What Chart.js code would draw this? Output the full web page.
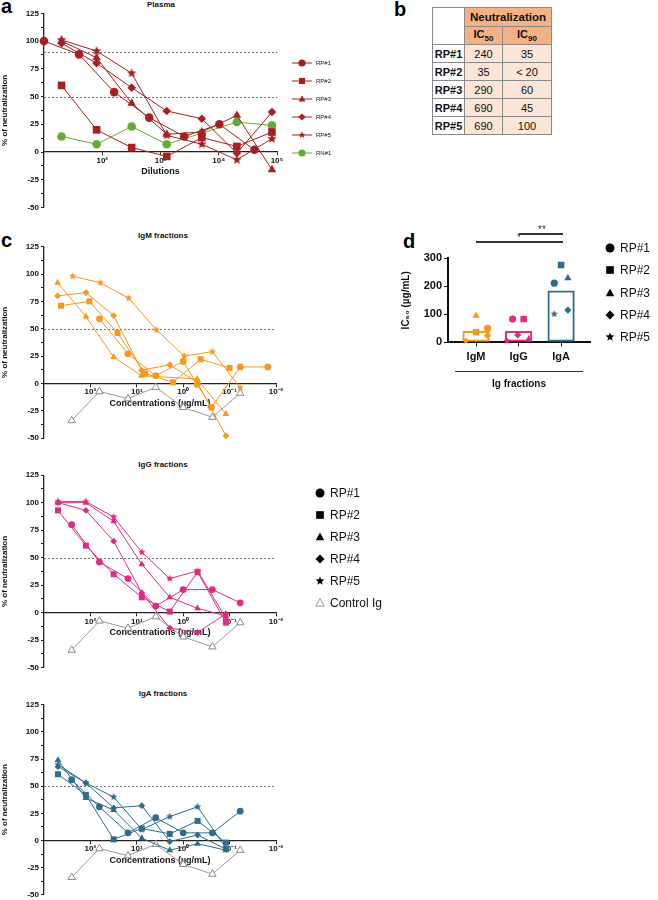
<!DOCTYPE html>
<html>
<head>
<meta charset="utf-8">
<script src="https://cdn.jsdelivr.net/npm/chart.js@4.4.1/dist/chart.umd.min.js"></script>
<style>
  body { margin: 0; background: #fff; font-family: 'Liberation Sans', Arial, sans-serif; }
  #page { position: relative; width: 658px; height: 900px; overflow: hidden; }
  canvas.chart { position: absolute; }
  .letter { position: absolute; font-weight: bold; font-size: 20px; line-height: 20px; color: #000; }
  .ptitle { position: absolute; font-weight: bold; font-size: 8px; line-height: 10px; transform: translateX(-50%); white-space: nowrap; color: #111; }
  .lg { position: absolute; display: flex; align-items: center; white-space: nowrap; color: #111; }
  .lg canvas { display: block; }
  #tbl { position: absolute; left: 432px; top: 7px; border-collapse: collapse; font-size: 11px; color: #111; }
  #tbl td { border: 1px solid #8a8a8a; text-align: center; padding: 0; height: 17px; }
  #tbl td.hd { background: #f4b183; font-weight: bold; }
  #tbl td.rh { background: #fff; font-weight: bold; }
  #tbl td.v { background: #fbe5d6; }
  #tbl sub { font-size: 8px; }
  .hline { position: absolute; background: #333; }
  .txt { position: absolute; font-weight: bold; white-space: nowrap; transform: translateX(-50%); color: #111; }
</style>
</head>
<body>
<div id="page">
  <div class="letter" style="left:1px;top:-4px">a</div>
  <div class="letter" style="left:394px;top:-1px">b</div>
  <div class="letter" style="left:1px;top:230px">c</div>
  <div class="letter" style="left:403px;top:231px">d</div>

  <div class="ptitle" style="left:161px;top:0px">Plasma</div>
  <div class="ptitle" style="left:163px;top:231px">IgM fractions</div>
  <div class="ptitle" style="left:163px;top:460px">IgG fractions</div>
  <div class="ptitle" style="left:163px;top:689px">IgA fractions</div>

  <canvas class="chart" id="chartA" width="330" height="215" style="left:0;top:0"></canvas>
  <canvas class="chart" id="chartM" width="330" height="215" style="left:0;top:232px"></canvas>
  <canvas class="chart" id="chartG" width="330" height="215" style="left:0;top:462px"></canvas>
  <canvas class="chart" id="chartIgA" width="330" height="208" style="left:0;top:692px"></canvas>
  <canvas class="chart" id="chartD" width="210" height="150" style="left:400px;top:225px"></canvas>

  <table id="tbl">
    <colgroup><col style="width:32px"><col style="width:38px"><col style="width:49px"></colgroup>
    <tbody id="tbody"></tbody>
  </table>

  <!-- significance bars and group bracket for d -->
  <div class="hline" style="left:476px;top:241px;width:87px;height:1.5px"></div>
  <div class="txt" style="left:519px;top:232px;font-size:10px;font-weight:normal;color:#333">*</div>
  <div class="hline" style="left:519px;top:233px;width:44px;height:1.5px"></div>
  <div class="txt" style="left:542px;top:224px;font-size:10px;font-weight:normal;color:#333">**</div>
  <div class="hline" style="left:455px;top:371px;width:128px;height:1px"></div>
  <div class="txt" style="left:519px;top:378px;font-size:10px">Ig fractions</div>
</div>

<script>
// ---- panel a : plasma ----
const plasmaSeries = ['RP#1', 'RP#2', 'RP#3', 'RP#4', 'RP#5', 'RN#1'];
const plasmaDilutions = [
  [10, 40, 160, 640, 2560, 10240, 40960],
  [20, 80, 320, 1280, 5120, 20480, 81920],
  [20, 80, 320, 1280, 5120, 20480, 81920],
  [20, 80, 320, 1280, 5120, 20480, 81920],
  [20, 80, 320, 1280, 5120, 20480, 81920],
  [20, 80, 320, 1280, 5120, 20480, 81920]
];
const plasmaNeut = [
  [100, 88, 54, 31, 14, 25, 2],
  [60, 20, 4, -4, 13, 5, 18],
  [100, 85, 44, 16, 18, 33, -16],
  [98, 80, 58, 37, 30, -1, 36],
  [101, 91, 71, 15, 7, -7, 12],
  [14, 7, 23, 7, 17, 27, 24]
];
const plasmaTicks = [1e2, 1e3, 1e4, 1e5];
const plasmaThresholds = [90, 50];

// ---- panel b : titers ----
const tableRows = ['RP#1', 'RP#2', 'RP#3', 'RP#4', 'RP#5'];
const ic50Titers = ['240', '35', '290', '690', '690'];
const ic90Titers = ['35', '< 20', '60', '45', '100'];

// ---- panel c : Ig fractions (µg/mL) ----
const fracSeries = ['RP#1', 'RP#2', 'RP#3', 'RP#4', 'RP#5'];
const igmConc = [
  [64, 15.5, 3.9, 1.0, 0.5, 0.245, 0.059, 0.015],
  [430, 105, 26, 6.6, 1.66, 0.42, 0.1],
  [510, 124, 31.5, 7.9, 0.5, 0.12],
  [510, 124, 31.5, 7.9, 1.95, 0.5, 0.12],
  [241, 61, 15, 3.8, 0.95, 0.235, 0.059]
];
const igmNeut = [
  [59, 27, 7, 20, -1, -22, 15, 15],
  [71, 75, 46, 9, 1, 22, 14],
  [92, 61, 24, 7, 4, -28],
  [80, 83, 62, 12, 17, 1, -48],
  [98, 92, 78, 49, 25, 29, -4]
];
const iggConc = [
  [253, 64, 15.5, 3.9, 1.0, 0.235, 0.059],
  [500, 125, 31.5, 7.8, 1.95, 0.49, 0.12],
  [500, 125, 31.5, 7.8, 1.95, 0.49, 0.12],
  [500, 125, 31.5, 7.8, 1.95, 0.49, 0.12],
  [500, 125, 31.5, 7.8, 1.95, 0.49, 0.12]
];
const iggNeut = [
  [80, 46, 31, 6, 21, 21, 9],
  [93, 61, 35, 14, 1, 37, -9],
  [100, 100, 83, 44, 14, 4, -3],
  [100, 93, 65, 18, -14, -18, -1],
  [101, 101, 87, 55, 31, 38, -5]
];
const igaConc = [
  [253, 64, 15.5, 3.9, 1.0, 0.235, 0.059],
  [500, 125, 31.5, 7.8, 1.95, 0.49, 0.12],
  [500, 125, 31.5, 7.8, 1.95, 0.49, 0.12],
  [500, 125, 31.5, 7.8, 1.95, 0.49, 0.12],
  [500, 125, 31.5, 7.8, 1.95, 0.49, 0.12]
];
const igaNeut = [
  [56, 31, 7, 21, 7, 7, 27],
  [61, 42, 1, 11, 6, 18, -2],
  [74, 39, 28, 2, -9, -3, -9],
  [68, 53, 30, 32, -1, 5, -8],
  [70, 53, 40, 10, 22, 31, -7]
];
const controlConc = [253, 64, 15.5, 3.9, 1.0, 0.235, 0.059];
const controlNeut = [-34, -7.5, -14, -3.6, -22, -31, -9];
const concTicks = [1e2, 1e1, 1e0, 1e-1, 1e-2];
const fracThresholds = [50];

// ---- panel d : IC50 of fractions ----
const groups = ['IgM', 'IgG', 'IgA'];
const ic50Mean = [40, 40, 185];
const ic50IgM = [50, 36, 95, 24, 5];
const ic50IgG = [83, 83, 11, 26, 5];
const ic50IgA = [211, 276, 229, 115, 101];
const ic50Ticks = [0, 100, 200, 300];

// styling
const plasmaColors = ['#a5201f', '#a5201f', '#a5201f', '#a5201f', '#a5201f', '#64ad35'];
const groupColors = ['#f8961e', '#dc2d80', '#2f6b8a'];
const shapes = ['circle', 'rect', 'triangle', 'rectRot', 'star'];
const plasmaShapes = ['circle', 'rect', 'triangle', 'rectRot', 'star', 'circle'];
const dJitter = [
  [0.27, 0, 0, 0.27, -0.24],
  [-0.14, 0.12, 0.24, -0.02, -0.27],
  [-0.16, 0, 0.16, 0.16, -0.16]
];

const FONT = "'Liberation Sans', Arial, sans-serif";
Chart.defaults.font.family = FONT;
Chart.defaults.color = '#111';
Chart.defaults.animation = false;
Chart.defaults.events = [];

function drawMarker(g, shape, x, y, r, fill, stroke) {
  g.beginPath();
  if (shape === 'circle') {
    g.arc(x, y, r, 0, Math.PI * 2);
  } else if (shape === 'rect') {
    const s = r * 0.85;
    g.rect(x - s, y - s, 2 * s, 2 * s);
  } else if (shape === 'triangle') {
    g.moveTo(x, y - r);
    g.lineTo(x + r * 0.95, y + r * 0.7);
    g.lineTo(x - r * 0.95, y + r * 0.7);
    g.closePath();
  } else if (shape === 'rectRot') {
    g.moveTo(x, y - r); g.lineTo(x + r, y); g.lineTo(x, y + r); g.lineTo(x - r, y);
    g.closePath();
  } else {
    for (let i = 0; i < 10; i++) {
      const a = -Math.PI / 2 + i * Math.PI / 5;
      const rr = i % 2 ? r * 0.45 : r;
      g.lineTo(x + rr * Math.cos(a), y + rr * Math.sin(a));
    }
    g.closePath();
  }
  if (fill) { g.fillStyle = fill; g.fill(); }
  if (stroke) { g.strokeStyle = stroke; g.lineWidth = 1; g.stroke(); }
}

function starImg(color, r) {
  const c = document.createElement('canvas');
  const s = Math.ceil(r * 2 + 2);
  c.width = s; c.height = s;
  drawMarker(c.getContext('2d'), 'star', s / 2, s / 2, r, color);
  return c;
}

const sup = { '-': '⁻', '0': '⁰', '1': '¹', '2': '²', '3': '³', '4': '⁴', '5': '⁵' };
function powLabel(v) {
  const e = Math.round(Math.log10(v));
  return '10' + String(e).split('').map(c => sup[c]).join('');
}

// dashed threshold lines
const refLines = {
  id: 'refLines',
  beforeDatasetsDraw(chart, args, opts) {
    const vals = opts.values || [];
    const { ctx, chartArea, scales } = chart;
    ctx.save();
    ctx.setLineDash([2, 2]);
    ctx.strokeStyle = '#555';
    ctx.lineWidth = 0.8;
    vals.forEach(v => {
      const y = Math.round(scales.y.getPixelForValue(v)) + 0.5;
      ctx.beginPath();
      ctx.moveTo(chartArea.left, y);
      ctx.lineTo(chartArea.right, y);
      ctx.stroke();
    });
    ctx.restore();
  }
};
Chart.register(refLines);

function yNeut() {
  return {
    min: -50, max: 125,
    border: { color: '#222', width: 1.3 },
    grid: { drawOnChartArea: false, tickLength: 3, color: '#222' },
    ticks: {
      stepSize: 12.5, autoSkip: false, padding: 2,
      font: { size: 8, weight: 'bold' },
      callback: v => (v % 25 === 0 ? v : '')
    },
    title: { display: true, text: '% of neutralization', font: { size: 8, weight: 'bold' }, padding: { top: 0, bottom: 0 } },
    afterFit: s => { s.width = 44; s.paddingTop = 0; s.paddingBottom = 0; }
  };
}

function xLog(min, max, reverse, ticks, title) {
  return {
    type: 'logarithmic', min, max, reverse,
    position: { y: 0 },
    border: { color: '#222', width: 1.3 },
    grid: { drawOnChartArea: false, tickLength: 3, color: '#222' },
    ticks: {
      autoSkip: false, maxRotation: 0, padding: 1,
      font: { size: 8, weight: 'bold' },
      callback: v => powLabel(v)
    },
    afterBuildTicks: s => { s.ticks = ticks.map(v => ({ value: v })); },
    title: { display: true, text: title, font: { size: 9, weight: 'bold' }, padding: { top: 0, bottom: 0 } }
  };
}

function lineSet(xs, ys, color, shape, r, label) {
  return {
    label,
    data: xs.map((x, i) => ({ x, y: ys[i] })),
    borderColor: color,
    backgroundColor: color,
    borderWidth: 1,
    pointStyle: shape === 'star' ? starImg(color, r * 1.15) : shape,
    pointRadius: shape === 'rect' ? r * 1.25 : shape === 'triangle' ? r * 1.15 : r,
    pointBackgroundColor: color,
    pointBorderColor: color,
    pointBorderWidth: 0,
    tension: 0,
    clip: false
  };
}

// panel a
new Chart(document.getElementById('chartA'), {
  type: 'line',
  data: {
    datasets: plasmaSeries.map((name, i) =>
      lineSet(plasmaDilutions[i], plasmaNeut[i], plasmaColors[i], plasmaShapes[i], 4.3, name))
  },
  options: {
    responsive: false,
    layout: { padding: { left: 0, top: 13.3, right: 53, bottom: 7.5 } },
    plugins: { legend: { display: false }, tooltip: { enabled: false }, refLines: { values: plasmaThresholds } },
    scales: { x: xLog(10, 1e5, false, plasmaTicks, 'Dilutions'), y: yNeut() }
  }
});

// panel c
function fracChart(id, concs, neuts, color, padTop, padBottom) {
  const sets = fracSeries.map((name, i) => lineSet(concs[i], neuts[i], color, shapes[i], 3.4, name));
  sets.push({
    label: 'Control Ig',
    data: controlConc.map((x, i) => ({ x, y: controlNeut[i] })),
    borderColor: '#9a9a9a', borderWidth: 1,
    pointStyle: 'triangle', pointRadius: 4.3,
    pointBackgroundColor: '#fff', pointBorderColor: '#8a8a8a', pointBorderWidth: 1,
    clip: false
  });
  new Chart(document.getElementById(id), {
    type: 'line',
    data: { datasets: sets },
    options: {
      responsive: false,
      layout: { padding: { left: 0, top: padTop, right: 54, bottom: padBottom } },
      plugins: { legend: { display: false }, tooltip: { enabled: false }, refLines: { values: fracThresholds } },
      scales: { x: xLog(0.01, 1000, true, concTicks, 'Concentrations (µg/mL)'), y: yNeut() }
    }
  });
}
fracChart('chartM', igmConc, igmNeut, groupColors[0], 14.7, 9);
fracChart('chartG', iggConc, iggNeut, groupColors[1], 13.2, 9.3);
fracChart('chartIgA', igaConc, igaNeut, groupColors[2], 12.8, 2.7);

// panel d
const ic50Sets = [ic50IgM, ic50IgG, ic50IgA];
const dSets = [{
  type: 'bar',
  data: ic50Mean.map((m, i) => ({ x: i, y: m })),
  backgroundColor: 'rgba(255,255,255,0)',
  borderColor: groupColors,
  borderWidth: 2,
  borderSkipped: false,
  barPercentage: 0.8,
  categoryPercentage: 0.8
}];
fracSeries.forEach((name, i) => {
  const shape = shapes[i];
  dSets.push({
    type: 'scatter',
    label: name,
    data: groups.map((g, k) => ({ x: k + dJitter[k][i], y: ic50Sets[k][i] })),
    pointStyle: shape === 'star' ? groupColors.map(c => starImg(c, 3.8)) : shape,
    pointRadius: shape === 'rect' ? 4.6 : shape === 'triangle' ? 4.2 : 3.6,
    pointBackgroundColor: groupColors,
    pointBorderWidth: 0,
    clip: false
  });
});
new Chart(document.getElementById('chartD'), {
  type: 'bar',
  data: { datasets: dSets },
  options: {
    responsive: false,
    layout: { padding: { left: 0, top: 33.3, right: 20, bottom: 12.7 } },
    plugins: { legend: { display: false }, tooltip: { enabled: false } },
    scales: {
      x: {
        type: 'linear', min: -0.66, max: 2.68,
        offset: false,
        border: { color: '#111', width: 2 },
        grid: { drawOnChartArea: false, offset: false, tickLength: 4, color: '#111' },
        ticks: { padding: 4, font: { size: 11, weight: 'bold' }, callback: v => groups[v] },
        afterBuildTicks: s => { s.ticks = groups.map((g, k) => ({ value: k })); },
        afterFit: s => { s.height = 20; s.paddingLeft = 0; s.paddingRight = 0; }
      },
      y: {
        min: 0, max: 300,
        border: { color: '#111', width: 2 },
        grid: { drawOnChartArea: false, tickLength: 4, color: '#111' },
        ticks: { padding: 2, font: { size: 11, weight: 'bold' } },
        afterBuildTicks: s => { s.ticks = ic50Ticks.map(v => ({ value: v })); },
        title: { display: true, text: 'IC₅₀ (µg/mL)', font: { size: 10, weight: 'bold' }, padding: { top: 0, bottom: 0 } },
        afterFit: s => { s.width = 48; s.paddingTop = 0; s.paddingBottom = 0; }
      }
    }
  }
});

// panel b table
const tb = document.getElementById('tbody');
tb.innerHTML =
  '<tr><td class="rh" rowspan="2" style="height:18px"></td><td class="hd" colspan="2" style="height:18px;font-size:11.5px">Neutralization</td></tr>' +
  '<tr><td class="hd">IC<sub>50</sub></td><td class="hd">IC<sub>90</sub></td></tr>' +
  tableRows.map((r, i) =>
    '<tr><td class="rh">' + r + '</td><td class="v">' + ic50Titers[i] + '</td><td class="v">' + ic90Titers[i] + '</td></tr>').join('');

// legends
const page = document.getElementById('page');
function addLegend(x, y, shape, color, fillColor, text, fontSize, r, withLine) {
  const d = document.createElement('div');
  d.className = 'lg';
  const w = withLine ? 20 : 14, h = 14;
  const c = document.createElement('canvas');
  c.width = w; c.height = h;
  const g = c.getContext('2d');
  if (withLine) {
    g.strokeStyle = color; g.lineWidth = 1;
    g.beginPath(); g.moveTo(0, h / 2); g.lineTo(w, h / 2); g.stroke();
  }
  drawMarker(g, shape, w / 2, h / 2, r, fillColor, fillColor === '#fff' ? color : null);
  const s = document.createElement('span');
  s.textContent = text;
  s.style.fontSize = fontSize + 'px';
  s.style.marginLeft = (withLine ? 4 : 3) + 'px';
  d.appendChild(c); d.appendChild(s);
  d.style.left = (x - w / 2) + 'px';
  d.style.top = (y - h / 2) + 'px';
  page.appendChild(d);
}
plasmaSeries.forEach((name, i) =>
  addLegend(302, 63 + i * 17.9, plasmaShapes[i], plasmaColors[i], plasmaColors[i], name, 6, 3.6, true));
fracSeries.forEach((name, i) =>
  addLegend(320, 493 + i * 22, shapes[i], '#000', '#000', name, 12, 4.5, false));
addLegend(320, 603, 'triangle', '#999', '#fff', 'Control Ig', 12, 4.5, false);
fracSeries.forEach((name, i) =>
  addLegend(610, 248 + i * 22.3, shapes[i], '#000', '#000', name, 12, 4.5, false));
</script>
</body>
</html>
